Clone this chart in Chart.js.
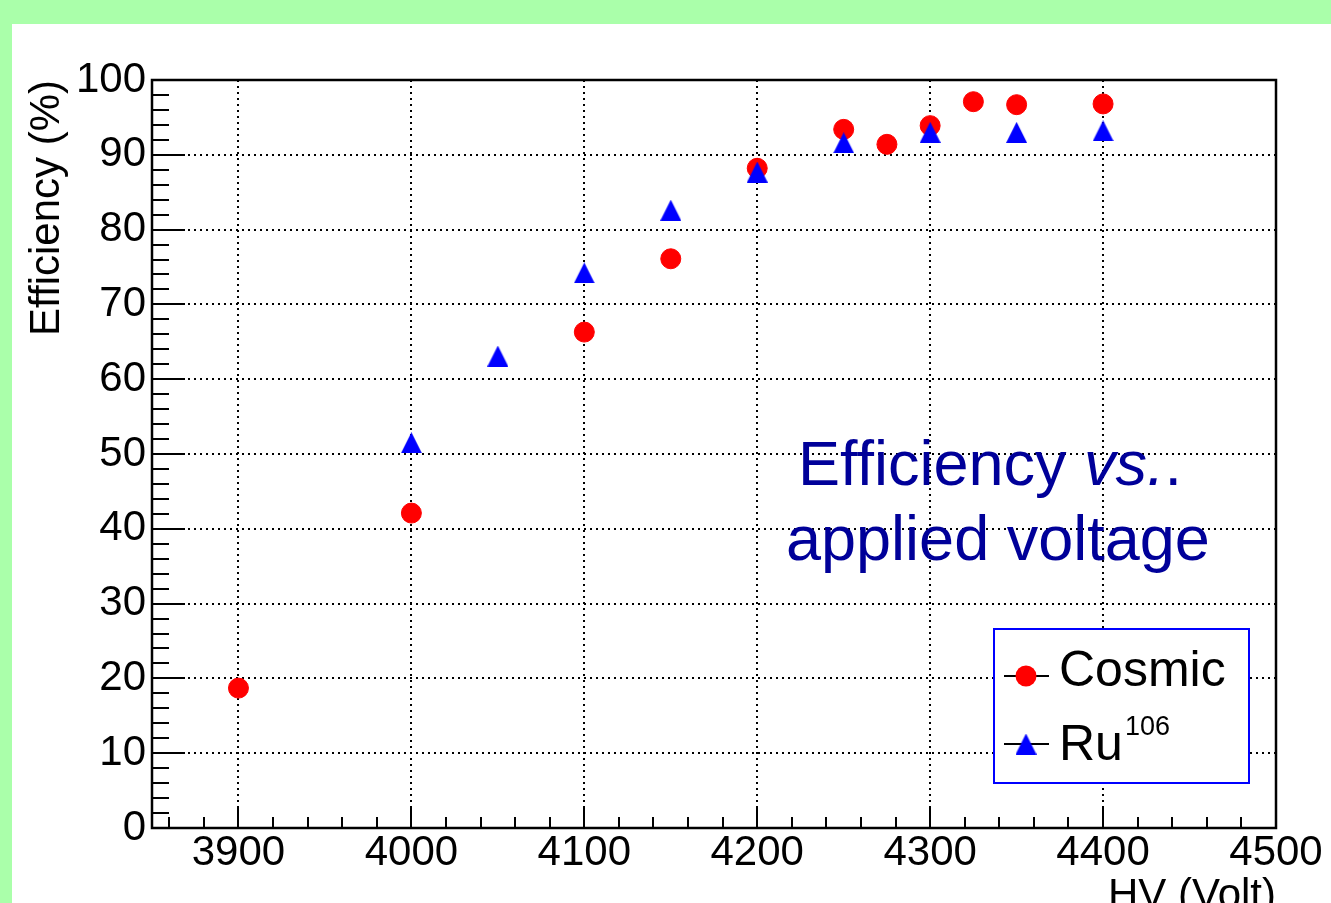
<!DOCTYPE html>
<html>
<head>
<meta charset="utf-8">
<script src="https://cdn.jsdelivr.net/npm/chart.js@4/dist/chart.umd.min.js"></script>
<style>
  html, body { margin: 0; padding: 0; background: #aaffaa; overflow: hidden; }
  #panel { position: absolute; left: 12px; top: 24px; width: 1319px; height: 879px; background: #fff; }
  canvas { display: block; }
</style>
</head>
<body>
<div id="panel"><canvas id="effChart" width="1319" height="879"></canvas></div>
<script>
// HV scan: efficiency for cosmics and for the Ru-106 source
const hvCosmic = [3900, 4000, 4100, 4150, 4200, 4250, 4275, 4300, 4325, 4350, 4400];
const effCosmic = [18.7, 42.1, 66.3, 76.1, 88.2, 93.4, 91.4, 93.9, 97.1, 96.7, 96.8];
const hvRu = [4000, 4050, 4100, 4150, 4200, 4250, 4300, 4350, 4400];
const effRu = [51.5, 63.1, 74.2, 82.6, 87.7, 91.6, 93.0, 93.0, 93.2];

const seriesNames = ['Cosmic', 'Ru'];
const seriesSup = ['', '106'];
const noteLine1 = ['Efficiency ', 'vs.', '.'];
const noteLine2 = 'applied voltage';

const xRange = [3850, 4500];
const yRange = [0, 100];
const xMajor = 100, xMinor = 20;
const yMajor = 10, yMinor = 2;

const FONT = "'Liberation Sans', Arial, Helvetica, sans-serif";
Chart.defaults.font.family = FONT;
Chart.defaults.color = '#000';

// ROOT-like marker 22: triangle centred on its bounding box
function triangleMarker(size, color) {
  const c = document.createElement('canvas');
  c.width = size; c.height = size;
  const g = c.getContext('2d');
  g.fillStyle = color;
  g.beginPath();
  g.moveTo(size / 2, 0);
  g.lineTo(size, size);
  g.lineTo(0, size);
  g.closePath();
  g.fill();
  return c;
}
const triBig = triangleMarker(21, '#0000ff');

function drawCircle(ctx, x, y, r, color) {
  ctx.fillStyle = color;
  ctx.beginPath();
  ctx.arc(x, y, r, 0, Math.PI * 2);
  ctx.fill();
}

const rootFrame = {
  id: 'rootFrame',
  afterDraw(chart) {
    const { ctx, chartArea: a, scales: { x, y } } = chart;
    ctx.save();

    // inward tick marks, major and minor
    ctx.strokeStyle = '#000';
    ctx.lineWidth = 2;
    ctx.beginPath();
    for (let v = xRange[0] + xMinor / 2; v <= xRange[1]; v += xMinor) {
      const px = Math.round(x.getPixelForValue(v));
      const len = v % xMajor === 0 ? 22 : 11;
      ctx.moveTo(px, a.bottom); ctx.lineTo(px, a.bottom - len);
    }
    for (let v = yRange[0]; v <= yRange[1]; v += yMinor) {
      const py = Math.round(y.getPixelForValue(v));
      const len = v % yMajor === 0 ? 33 : 17;
      ctx.moveTo(a.left, py); ctx.lineTo(a.left + len, py);
    }
    ctx.stroke();

    // frame
    ctx.lineWidth = 2.5;
    ctx.strokeRect(a.left, a.top, a.right - a.left, a.bottom - a.top);

    // text box
    ctx.fillStyle = '#000099';
    ctx.textBaseline = 'alphabetic';
    ctx.textAlign = 'left';
    let tx = a.left + 646;
    const ty1 = a.top + 405;
    noteLine1.forEach((part, i) => {
      ctx.font = (i === 1 ? 'italic ' : '') + '63px ' + FONT;
      ctx.fillText(part, tx, ty1);
      tx += ctx.measureText(part).width;
    });
    ctx.font = '63px ' + FONT;
    ctx.fillText(noteLine2, a.left + 634, a.top + 480);

    // legend
    const bx = a.right - 282, by = a.bottom - 199, bw = 255, bh = 154;
    ctx.fillStyle = '#fff';
    ctx.fillRect(bx, by, bw, bh);
    ctx.strokeStyle = '#0000ff';
    ctx.lineWidth = 2;
    ctx.strokeRect(bx, by, bw, bh);
    const rows = [by + 47, by + 115];
    rows.forEach((ry, i) => {
      ctx.strokeStyle = '#000';
      ctx.lineWidth = 2;
      ctx.beginPath();
      ctx.moveTo(bx + 10, ry); ctx.lineTo(bx + 55, ry);
      ctx.stroke();
      if (i === 0) drawCircle(ctx, bx + 32, ry, 10.5, '#ff0000');
      else ctx.drawImage(triBig, bx + 32 - 10.5, ry - 10.5);
      ctx.fillStyle = '#000';
      ctx.font = '50px ' + FONT;
      ctx.fillText(seriesNames[i], bx + 65, ry + 10 - (i === 0 ? 0 : -6));
      if (seriesSup[i]) {
        const w = ctx.measureText(seriesNames[i]).width;
        ctx.font = '27px ' + FONT;
        ctx.fillText(seriesSup[i], bx + 65 + w + 2, ry - 9);
      }
    });

    ctx.restore();
  }
};

new Chart(document.getElementById('effChart'), {
  type: 'scatter',
  data: {
    datasets: [
      {
        label: seriesNames[0],
        data: hvCosmic.map((v, i) => ({ x: v, y: effCosmic[i] })),
        pointStyle: 'circle',
        pointRadius: 10,
        pointBorderWidth: 1,
        backgroundColor: '#ff0000',
        borderColor: '#ff0000',
        order: 1
      },
      {
        label: seriesNames[1] + seriesSup[1],
        data: hvRu.map((v, i) => ({ x: v, y: effRu[i] })),
        pointStyle: triBig,
        pointRadius: 10,
        backgroundColor: '#0000ff',
        borderColor: '#0000ff',
        order: 0
      }
    ]
  },
  options: {
    responsive: false,
    animation: false,
    events: [],
    layout: { padding: { top: 56, right: 55, left: 0, bottom: 0 } },
    plugins: { legend: { display: false }, tooltip: { enabled: false } },
    scales: {
      x: {
        type: 'linear',
        min: xRange[0], max: xRange[1],
        afterFit(s) { s.height = 75; },
        ticks: {
          stepSize: xMajor, includeBounds: false, padding: 0, font: { size: 42 }, maxRotation: 0, autoSkip: false,
          callback: (v) => String(v)
        },
        grid: { color: '#000', lineWidth: 2, drawTicks: false },
        border: { display: false, dash: [2, 4] },
        title: { display: true, text: 'HV (Volt)', align: 'end', font: { size: 42 }, padding: { top: 0, bottom: -19 } }
      },
      y: {
        min: yRange[0], max: yRange[1],
        afterFit(s) { s.width = 140; },
        ticks: { stepSize: yMajor, padding: 6, font: { size: 42 }, callback: (v) => String(v) },
        grid: { color: '#000', lineWidth: 2, drawTicks: false },
        border: { display: false, dash: [2, 4] },
        title: { display: true, text: 'Efficiency (%)', align: 'end', font: { size: 42 }, padding: { top: 10, bottom: 0 } }
      }
    }
  },
  plugins: [rootFrame]
});
</script>
</body>
</html>
